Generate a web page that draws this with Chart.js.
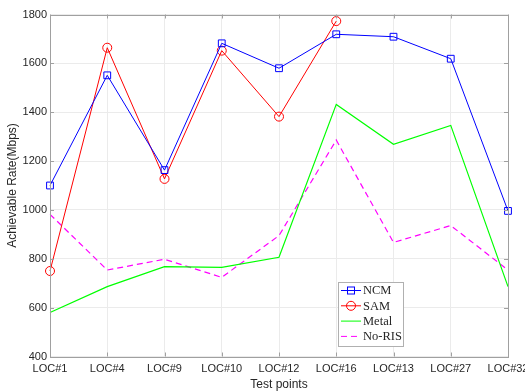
<!DOCTYPE html>
<html lang="en">
<head>
<meta charset="UTF-8">
<title>Achievable Rate</title>
<script src="https://cdn.jsdelivr.net/npm/chart.js"></script>
<style>
  html, body { margin: 0; padding: 0; background: #fff; }
  #wrap { width: 525px; height: 392px; position: relative; }
</style>
</head>
<body>
<div id="wrap"><canvas id="rateChart"></canvas></div>
<script>
// Test point labels
const testPoints = ['LOC#1', 'LOC#4', 'LOC#9', 'LOC#10', 'LOC#12', 'LOC#16', 'LOC#13', 'LOC#27', 'LOC#32'];

// Series values (Mbps)
const ncm = [1100, 1551, 1163, 1682, 1580, 1719, 1709, 1619, 996];
const sam = [750, 1664, 1127, 1652, 1382, 1773, null, null, null];
const metal = [580, 686, 768, 765, 806, 1432, 1269, 1346, 686];
const noRis = [982, 754, 798, 724, 895, 1286, 867, 936, 754];

// Y axis ticks
const yTicks = [400, 600, 800, 1000, 1200, 1400, 1600, 1800];

const AXIS_COLOR = '#a0a0a0';
const GRID_COLOR = '#ebebeb';

// Legend drawn inside the plot area, MATLAB style
const insideLegend = {
  id: 'insideLegend',
  afterDraw(chart) {
    const ctx = chart.ctx;
    const x0 = 338, y0 = 282, w = 65, h = 64;
    ctx.save();
    ctx.fillStyle = '#fff';
    ctx.fillRect(x0, y0, w, h);
    ctx.strokeStyle = '#b0b0b0';
    ctx.lineWidth = 1;
    ctx.strokeRect(x0 + 0.5, y0 + 0.5, w, h);
    ctx.font = '12.5px "Liberation Serif", "DejaVu Serif", serif';
    ctx.textBaseline = 'middle';
    chart.data.datasets.forEach((ds, i) => {
      const y = y0 + 8.5 + i * 15.3;
      ctx.strokeStyle = ds.borderColor;
      ctx.lineWidth = 1;
      ctx.setLineDash(ds.borderDash || []);
      ctx.beginPath();
      ctx.moveTo(x0 + 3, y);
      ctx.lineTo(x0 + 23, y);
      ctx.stroke();
      ctx.setLineDash([]);
      if (ds.pointStyle === 'rect') {
        ctx.strokeRect(x0 + 9.5, y - 3.5, 7, 7);
      } else if (ds.pointStyle === 'circle') {
        ctx.beginPath();
        ctx.arc(x0 + 13, y, 4.5, 0, Math.PI * 2);
        ctx.stroke();
      }
      ctx.fillStyle = '#262626';
      ctx.fillText(ds.label, x0 + 25, y + 0.5);
    });
    ctx.restore();
  }
};

// Box around plot area with inner ticks
const axesBox = {
  id: 'axesBox',
  afterDatasetsDraw(chart) {
    const { ctx, chartArea: a, scales } = chart;
    ctx.save();
    ctx.strokeStyle = AXIS_COLOR;
    ctx.lineWidth = 1;
    ctx.strokeRect(Math.round(a.left) + 0.5, Math.round(a.top) + 0.5,
      Math.round(a.right - a.left), Math.round(a.bottom - a.top));
    ctx.beginPath();
    testPoints.forEach((_, i) => {
      const x = Math.round(scales.x.getPixelForValue(i)) + 0.5;
      ctx.moveTo(x, a.bottom); ctx.lineTo(x, a.bottom - 4);
      ctx.moveTo(x, a.top); ctx.lineTo(x, a.top + 4);
    });
    yTicks.forEach(v => {
      const y = Math.round(scales.y.getPixelForValue(v)) + 0.5;
      ctx.moveTo(a.left, y); ctx.lineTo(a.left + 4, y);
      ctx.moveTo(a.right, y); ctx.lineTo(a.right - 4, y);
    });
    ctx.stroke();
    ctx.restore();
  }
};

const tickFont = { family: '"Liberation Sans", Arial, sans-serif', size: 11 };
const titleFont = { family: '"Liberation Sans", Arial, sans-serif', size: 12 };

new Chart(document.getElementById('rateChart'), {
  type: 'line',
  data: {
    labels: testPoints,
    datasets: [
      {
        label: 'NCM', data: ncm, borderColor: '#0000ff', backgroundColor: 'transparent',
        borderWidth: 1, pointStyle: 'rect', pointRadius: 4.8, pointBorderWidth: 1,
        pointBackgroundColor: 'transparent', tension: 0
      },
      {
        label: 'SAM', data: sam, borderColor: '#ff0000', backgroundColor: 'transparent',
        borderWidth: 1, pointStyle: 'circle', pointRadius: 4.5, pointBorderWidth: 1,
        pointBackgroundColor: 'transparent', tension: 0
      },
      {
        label: 'Metal', data: metal, borderColor: '#00ff00', backgroundColor: 'transparent',
        borderWidth: 1.2, pointRadius: 0, tension: 0
      },
      {
        label: 'No-RIS', data: noRis, borderColor: '#ff00ff', backgroundColor: 'transparent',
        borderWidth: 1.2, borderDash: [6, 4], pointRadius: 0, tension: 0
      }
    ]
  },
  options: {
    responsive: true,
    maintainAspectRatio: false,
    animation: false,
    layout: { padding: { top: 14.5, right: 17, left: 0, bottom: 0 } },
    plugins: {
      legend: { display: false },
      tooltip: { enabled: false }
    },
    scales: {
      x: {
        offset: false,
        grid: { color: GRID_COLOR, drawTicks: false },
        border: { display: false },
        ticks: { color: '#262626', font: tickFont, padding: 6, maxRotation: 0, autoSkip: false },
        title: { display: true, text: 'Test points', color: '#262626', font: titleFont,
          padding: { top: 0, bottom: 0 } },
        afterFit(scale) {
          scale.height = 35.5;
          scale.paddingLeft = 0;
          scale.paddingRight = 0;
        }
      },
      y: {
        min: 400, max: 1800,
        grid: { color: GRID_COLOR, drawTicks: false },
        border: { display: false },
        afterBuildTicks(scale) { scale.ticks = yTicks.map(v => ({ value: v })); },
        ticks: { color: '#262626', font: tickFont, padding: 3, callback: v => String(v) },
        title: { display: true, text: 'Achievable Rate(Mbps)', color: '#262626', font: titleFont,
          padding: { top: 5, bottom: 0 } },
        afterFit(scale) {
          scale.width = 50;
          scale.paddingTop = 0;
          scale.paddingBottom = 0;
        }
      }
    }
  },
  plugins: [axesBox, insideLegend]
});
</script>
</body>
</html>
